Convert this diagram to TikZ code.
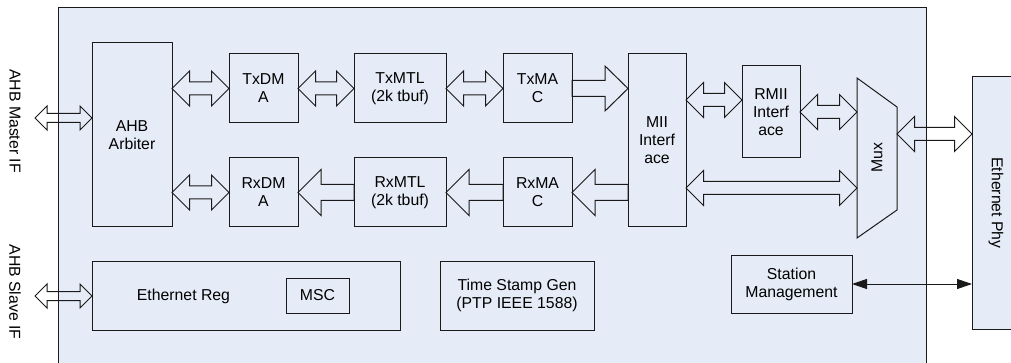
\documentclass[tikz,border=0pt]{standalone}
\usepackage{fontspec}
\setmainfont{Liberation Sans}
\usetikzlibrary{calc,arrows.meta}
\definecolor{bg}{HTML}{E6ECF7}
\definecolor{ln}{HTML}{1A1A1A}
\tikzset{
  blk/.style={draw=ln, fill=bg, line width=1pt, inner sep=0pt, outer sep=0pt,
    align=center, font=\fontsize{15.8}{18}\selectfont},
  barrow/.style={draw=ln, line width=1pt, line join=miter},
  lbl/.style={inner sep=0pt, outer sep=0pt, align=center, font=\fontsize{15.8}{18}\selectfont},
  anchorbox/.style={inner sep=0pt, outer sep=0pt},
}
% double block arrow: #1 left end, #2 right end, #3 shaft half, #4 head half, #5 head length
\newcommand{\dblarr}[5]{%
  \draw[barrow] let \p1=(#1), \p2=(#2) in
    (\x1,\y1) -- (\x1+#5,\y1+#4) -- (\x1+#5,\y1+#3) -- (\x2-#5,\y1+#3) -- (\x2-#5,\y1+#4)
    -- (\x2,\y1) -- (\x2-#5,\y1-#4) -- (\x2-#5,\y1-#3) -- (\x1+#5,\y1-#3) -- (\x1+#5,\y1-#4) -- cycle;}
% single block arrow pointing left: #1 tip (left), #2 tail (right)
\newcommand{\leftarr}[5]{%
  \draw[barrow] let \p1=(#1), \p2=(#2) in
    (\x1,\y1) -- (\x1+#5,\y1+#4) -- (\x1+#5,\y1+#3) -- (\x2,\y1+#3) -- (\x2,\y1-#3)
    -- (\x1+#5,\y1-#3) -- (\x1+#5,\y1-#4) -- cycle;}
% single block arrow pointing right: #1 tail (left), #2 tip (right)
\newcommand{\rightarr}[5]{%
  \draw[barrow] let \p1=(#1), \p2=(#2) in
    (\x2,\y1) -- (\x2-#5,\y1+#4) -- (\x2-#5,\y1+#3) -- (\x1,\y1+#3) -- (\x1,\y1-#3)
    -- (\x2-#5,\y1-#3) -- (\x2-#5,\y1-#4) -- cycle;}
\begin{document}
\begin{tikzpicture}[x=1pt,y=-1pt]
\useasboundingbox (0,0) rectangle (1011,363);
% main box
\node[blk, minimum width=868pt, minimum height=362pt] (main) at (492,189) {};
% blocks
\node[blk, minimum width=80pt, minimum height=184pt] (arb) at (132,135) {AHB\\Arbiter};
\node[blk, minimum width=69pt, minimum height=69pt] (txdma) at (263.5,88.5) {TxDM\\A};
\node[blk, minimum width=69pt, minimum height=69pt] (rxdma) at (263.5,192.5) {RxDM\\A};
\node[blk, minimum width=92pt, minimum height=69pt] (txmtl) at (400,88.5) {TxMTL\\(2k tbuf)};
\node[blk, minimum width=92pt, minimum height=69pt] (rxmtl) at (400,192.5) {RxMTL\\(2k tbuf)};
\node[blk, minimum width=69pt, minimum height=69pt] (txmac) at (537.5,88.5) {TxMA\\C};
\node[blk, minimum width=69pt, minimum height=69pt] (rxmac) at (537.5,192.5) {RxMA\\C};
\node[blk, minimum width=58pt, minimum height=173pt] (mii) at (657,140.5) {MII\\Interf\\ace};
\node[blk, minimum width=58pt, minimum height=92pt] (rmii) at (771,112) {RMII\\Interf\\ace};
\node[blk, minimum width=308pt, minimum height=69pt] (ereg) at (246,295.5) {};
\node[lbl] (eregtxt) at (183.5,296) {Ethernet Reg};
\node[blk, minimum width=63pt, minimum height=35pt] (msc) at (317.5,295.5) {MSC};
\node[blk, minimum width=154pt, minimum height=69pt] (tsg) at (517,295.5) {Time Stamp Gen\\(PTP IEEE 1588)};
\node[blk, minimum width=121pt, minimum height=58pt] (sm) at (791.5,284) {Station\\Management};
\node[blk, minimum width=56pt, minimum height=252pt] (phy) at (1000,203) {};
\node[lbl, rotate=-90] (phytxt) at (996,203) {Ethernet Phy};
% mux
\node[anchorbox, minimum width=40pt, minimum height=160pt] (mux) at (877,158) {};
\draw[blk] (mux.north west) -- ($(mux.north east)+(0,29)$) -- ($(mux.south east)+(0,-28)$) -- (mux.south west) -- cycle;
\node[lbl, rotate=90] (muxtxt) at (877,158) {Mux};
% external labels
\coordinate (mif) at (35,118);
\coordinate (sif) at (35,296);
\node[lbl, rotate=-90] (miftxt) at (15,121) {AHB Master IF};
\node[lbl, rotate=-90] (siftxt) at (15,292) {AHB Slave IF};
% arrows
\dblarr{mif}{arb.west|-mif}{4.5pt}{12pt}{12pt}
\dblarr{sif}{ereg.west|-sif}{4.5pt}{12pt}{12pt}
\dblarr{arb.east|-txdma}{txdma.west}{6.5pt}{17.5pt}{17.5pt}
\dblarr{arb.east|-rxdma}{rxdma.west}{6.5pt}{17.5pt}{17.5pt}
\dblarr{txdma.east}{txmtl.west}{6.5pt}{17.5pt}{17.5pt}
\dblarr{txmtl.east}{txmac.west}{6.5pt}{17.5pt}{17.5pt}
\rightarr{txmac.east}{mii.west|-txmac.east}{8pt}{22.5pt}{23pt}
\leftarr{rxmac.east}{mii.west|-rxmac.east}{8pt}{23pt}{23pt}
\leftarr{rxmtl.east}{rxmac.west}{8pt}{23pt}{23pt}
\leftarr{rxdma.east}{rxmtl.west}{8pt}{23pt}{23pt}
\dblarr{mii.east|-0,100}{rmii.west|-0,100}{6.5pt}{17.5pt}{17.5pt}
\dblarr{rmii.east}{mux.west|-rmii.east}{6.5pt}{17.5pt}{17.5pt}
\dblarr{mii.east|-0,188}{mux.west|-0,188}{6.5pt}{17.5pt}{17.5pt}
\dblarr{mux.east|-0,134}{phy.west|-0,134}{6.5pt}{17.5pt}{17.5pt}
\draw[ln, line width=1pt, {Triangle[length=15pt,width=10pt]}-{Triangle[length=15pt,width=10pt]}] (sm.east) -- (phy.west|-sm.east);
\end{tikzpicture}
\end{document}
